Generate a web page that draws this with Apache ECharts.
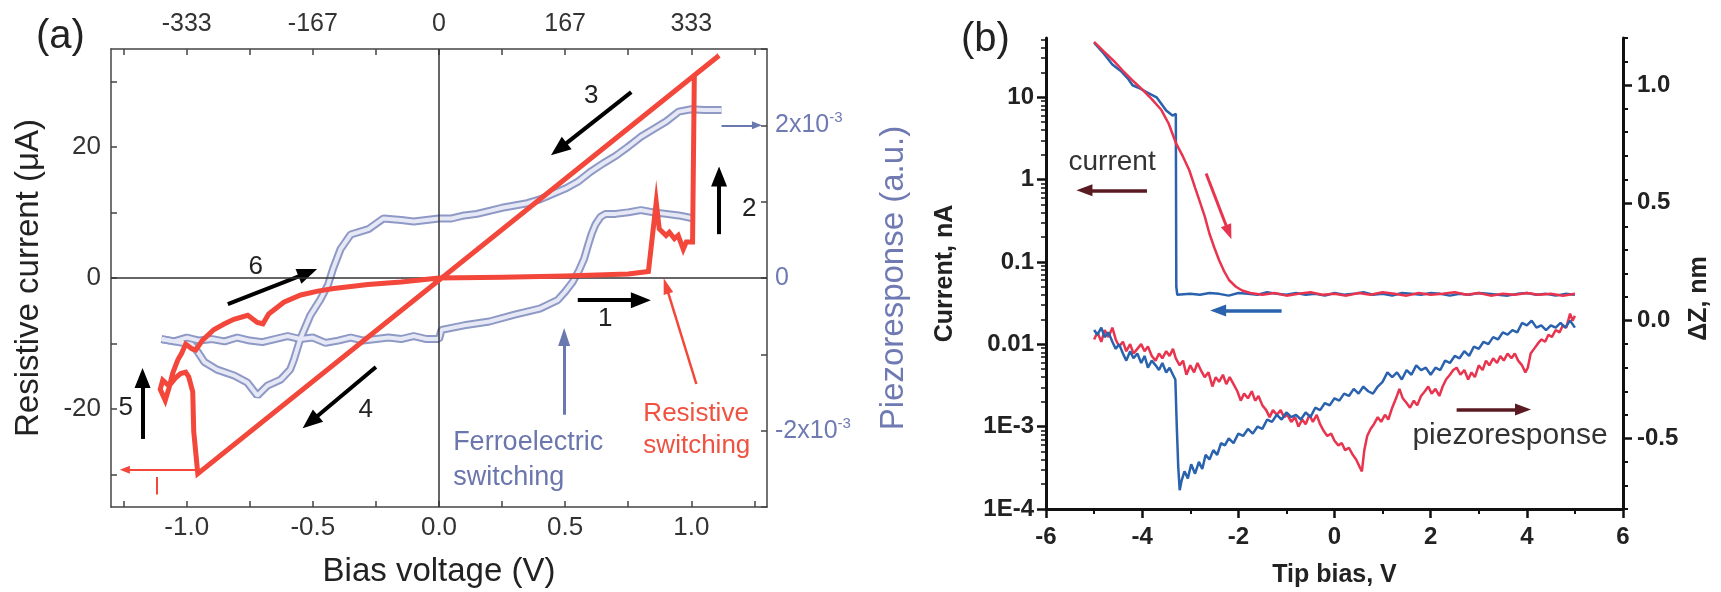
<!DOCTYPE html>
<html>
<head>
<meta charset="utf-8">
<title>Resistive and ferroelectric switching</title>
<script src="https://cdn.jsdelivr.net/npm/echarts@6/dist/echarts.min.js"></script>
<style>
  html, body { margin: 0; padding: 0; background: #fff; }
  #chart { width: 1721px; height: 592px; }
</style>
</head>
<body>
<div id="chart"></div>
<script>
// ---------- panel (a): bias voltage (V) ----------
// resistive current loop (uA), in sweep order
const resV = [0, 0.25, 0.5, 0.75, 0.83, 0.861, 0.873, 0.9, 0.913, 0.933, 0.948, 0.968, 0.98, 1.005, 1.012, 1.11,
  -0.956, -0.972, -0.976, -0.992, -1.004, -1.024, -1.045, -1.07, -1.095, -1.105, -1.085, -1.07, -1.055, -1.035,
  -1.02, -1.004, -0.98, -0.964, -0.937, -0.893, -0.85, -0.813, -0.758, -0.72, -0.698, -0.675, -0.615, -0.548,
  -0.48, -0.417, -0.282, -0.15, 0]
const resI = [0, 0.1, 0.3, 0.6, 1.0, 11.6, 7.5, 6.5, 7.0, 6.0, 6.5, 4.4, 5.5, 5.5, 31, 34,
  -29.9, -23.5, -17.4, -15.1, -14.4, -14.6, -15.3, -16.5, -15.6, -17.0, -18.7, -16.8, -14.5, -12.5,
  -11.5, -10.1, -10.8, -11.0, -9.5, -7.9, -7.0, -6.3, -5.7, -6.8, -7.0, -5.5, -3.7, -2.6,
  -2.0, -1.6, -1.0, -0.6, 0]

// piezoresponse (x1e-3 a.u.), forward sweep (lower branch)
const piezoFwdV = [-1.1, -1.05, -1.0, -0.95, -0.9, -0.85, -0.8, -0.75, -0.7, -0.65, -0.6, -0.55, -0.5, -0.45,
  -0.4, -0.35, -0.3, -0.25, -0.2, -0.15, -0.1, -0.05, 0.0, 0.01, 0.1, 0.2, 0.3, 0.4, 0.47, 0.5, 0.53, 0.555,
  0.575, 0.59, 0.605, 0.62, 0.64, 0.66, 0.7, 0.75, 0.8, 0.85, 0.9, 0.95, 1.01]
const piezoFwdP = [-0.80, -0.83, -0.78, -0.82, -0.80, -0.83, -0.78, -0.82, -0.84, -0.80, -0.76, -0.80, -0.78, -0.85,
  -0.82, -0.78, -0.82, -0.80, -0.78, -0.80, -0.76, -0.80, -0.80, -0.68, -0.62, -0.57, -0.48, -0.40, -0.29, -0.18, -0.05, 0.1,
  0.25, 0.42, 0.58, 0.70, 0.80, 0.84, 0.84, 0.86, 0.89, 0.86, 0.84, 0.82, 0.78]
// reverse sweep (upper branch)
const piezoRevV = [1.12, 1.05, 1.0, 0.95, 0.9, 0.85, 0.8, 0.75, 0.7, 0.65, 0.6, 0.55, 0.5, 0.45, 0.4, 0.35, 0.3,
  0.25, 0.2, 0.15, 0.1, 0.05, 0.0, -0.05, -0.1, -0.15, -0.22, -0.28, -0.35, -0.39, -0.42, -0.44, -0.47, -0.51,
  -0.55, -0.575, -0.59, -0.627, -0.68, -0.72, -0.76, -0.81, -0.88, -0.93, -0.956, -0.98, -1.05, -1.1]
const piezoRevP = [2.2, 2.2, 2.21, 2.18, 2.05, 1.95, 1.85, 1.72, 1.6, 1.5, 1.39, 1.26, 1.17, 1.1, 1.03, 0.98, 0.95,
  0.92, 0.88, 0.84, 0.82, 0.78, 0.78, 0.76, 0.74, 0.76, 0.78, 0.64, 0.57, 0.38, 0.12, -0.09, -0.28, -0.49,
  -0.80, -1.07, -1.2, -1.33, -1.41, -1.54, -1.37, -1.28, -1.2, -1.1, -0.97, -0.87, -0.83, -0.80]

const biasLabelValues = [-1, -0.5, 0, 0.5, 1]
const biasTickValues = [-1.25, -1, -0.75, -0.5, -0.25, 0, 0.25, 0.5, 0.75, 1, 1.25]
const topTickLabels = ['-333', '-167', '0', '167', '333']
const currentLabelValues = [-20, 0, 20]
const currentTickValues = [-30, -20, -10, 0, 10, 20, 30]
const piezoLabelValues = [-2, 0, 2]
const piezoTickLabels = ['-2x10^-3', '0', '2x10^-3']
const piezoTickValues = [-3, -2, -1, 0, 1, 2, 3]

// ---------- panel (b): tip bias (V) ----------
// current (nA), blue sweep
const curBlueV = [-5.0, -4.8, -4.62, -4.45, -4.3, -4.2, -4.05, -3.9, -3.7, -3.5, -3.37, -3.3, -3.29, -3.27,
  -3.0, -2.8, -2.6, -2.4, -2.2, -2.0, -1.8, -1.6, -1.4, -1.2, -1.0, -0.8, -0.6, -0.4, -0.2, 0, 0.2, 0.4,
  0.6, 0.8, 1.0, 1.2, 1.4, 1.6, 1.8, 2.0, 2.2, 2.4, 2.6, 2.8, 3.0, 3.2, 3.4, 3.6, 3.8, 4.0, 4.2, 4.4,
  4.6, 4.8, 5.0]
const curBlueI = [46, 34, 25, 21, 17, 14, 12.8, 11.5, 10, 6.9, 6.0, 6.3, 0.05, 0.040,
  0.041, 0.040, 0.042, 0.041, 0.039, 0.042, 0.041, 0.040, 0.043, 0.041, 0.040, 0.042, 0.040, 0.041, 0.039, 0.042, 0.040, 0.041,
  0.043, 0.040, 0.041, 0.039, 0.042, 0.041, 0.040, 0.042, 0.041, 0.039, 0.041, 0.040, 0.042, 0.041, 0.040, 0.039, 0.041, 0.042, 0.040, 0.041,
  0.039, 0.041, 0.040]
// current (nA), red sweep
const curRedV = [-5.0, -4.8, -4.6, -4.4, -4.2, -4.0, -3.8, -3.6, -3.45, -3.3, -3.15, -3.02, -2.9, -2.81, -2.7,
  -2.6, -2.5, -2.4, -2.3, -2.19, -2.05, -1.92, -1.75, -1.5, -1.25, -1.0, -0.75, -0.5, -0.25, 0, 0.25, 0.5,
  0.75, 1.0, 1.25, 1.5, 1.75, 2.0, 2.25, 2.5, 2.75, 3.0, 3.25, 3.5, 3.75, 4.0, 4.25, 4.5, 4.75, 5.0]
const curRedI = [47, 36, 28, 21, 16, 12.5, 9.5, 7, 4.8, 2.8, 1.9, 1.3, 0.8, 0.56, 0.36,
  0.22, 0.15, 0.105, 0.078, 0.06, 0.05, 0.045, 0.042, 0.040, 0.042, 0.039, 0.041, 0.043, 0.040, 0.041, 0.039, 0.042,
  0.040, 0.043, 0.041, 0.039, 0.042, 0.040, 0.041, 0.043, 0.040, 0.042, 0.039, 0.041, 0.040, 0.042, 0.040, 0.041, 0.039, 0.041]

// piezoresponse dZ (nm), blue sweep
const dzBlueV = [-5.0, -4.93, -4.85, -4.78, -4.7, -4.62, -4.55, -4.48, -4.4, -4.33, -4.25, -4.18, -4.1, -4.02,
  -3.95, -3.88, -3.8, -3.72, -3.65, -3.58, -3.5, -3.43, -3.36, -3.31, -3.28, -3.25, -3.22, -3.18, -3.12, -3.05,
  -2.98, -2.9, -2.82, -2.75, -2.68, -2.6, -2.52, -2.44, -2.36, -2.28, -2.2, -2.1, -2.0, -1.9, -1.8, -1.7, -1.6,
  -1.5, -1.4, -1.3, -1.2, -1.1, -1.0, -0.9, -0.8, -0.7, -0.6, -0.5, -0.4, -0.3, -0.2, -0.1, 0, 0.1, 0.2, 0.3,
  0.4, 0.5, 0.6, 0.7, 0.8, 0.9, 1.0, 1.1, 1.2, 1.3, 1.4, 1.5, 1.6, 1.7, 1.8, 1.9, 2.0, 2.1, 2.2, 2.3, 2.4, 2.5,
  2.6, 2.7, 2.8, 2.9, 3.0, 3.1, 3.2, 3.3, 3.4, 3.5, 3.6, 3.7, 3.8, 3.9, 4.0, 4.1, 4.2, 4.3, 4.4, 4.5, 4.6, 4.7,
  4.8, 4.9, 5.0]
const dzBlue = [-0.04, -0.06, -0.03, -0.07, -0.05, -0.09, -0.12, -0.10, -0.14, -0.17, -0.13, -0.16, -0.14, -0.18,
  -0.15, -0.20, -0.17, -0.19, -0.21, -0.18, -0.22, -0.20, -0.23, -0.25, -0.45, -0.62, -0.72, -0.68, -0.64, -0.67,
  -0.61, -0.65, -0.60, -0.63, -0.57, -0.59, -0.55, -0.57, -0.52, -0.53, -0.50, -0.52, -0.48, -0.49, -0.46, -0.48, -0.45,
  -0.46, -0.42, -0.43, -0.40, -0.42, -0.39, -0.41, -0.40, -0.42, -0.39, -0.41, -0.37, -0.38, -0.35, -0.36, -0.33, -0.34, -0.31, -0.32,
  -0.29, -0.31, -0.28, -0.30, -0.31, -0.28, -0.26, -0.22, -0.24, -0.22, -0.25, -0.21, -0.23, -0.19, -0.21, -0.20, -0.23, -0.20, -0.21, -0.17, -0.18, -0.15,
  -0.16, -0.13, -0.15, -0.11, -0.12, -0.09, -0.10, -0.07, -0.08, -0.05, -0.06, -0.04, -0.05, -0.01, -0.02, 0.0, -0.03, -0.02, -0.04, -0.02, -0.03, -0.01,
  -0.03, 0.0, -0.03]
// piezoresponse dZ (nm), red sweep
const dzRedV = [-5.0, -4.93, -4.85, -4.78, -4.7, -4.62, -4.55, -4.48, -4.4, -4.33, -4.25, -4.18, -4.1, -4.02,
  -3.95, -3.88, -3.8, -3.72, -3.65, -3.58, -3.5, -3.43, -3.36, -3.3, -3.22, -3.15, -3.08, -3.0, -2.92, -2.85,
  -2.78, -2.7, -2.62, -2.54, -2.47, -2.4, -2.32, -2.25, -2.18, -2.1, -2.02, -1.95, -1.88, -1.8, -1.72, -1.65,
  -1.58, -1.5, -1.42, -1.35, -1.28, -1.2, -1.12, -1.05, -0.98, -0.9, -0.82, -0.75, -0.67, -0.6, -0.52, -0.45,
  -0.37, -0.3, -0.22, -0.15, -0.07, 0.0, 0.08, 0.15, 0.22, 0.3, 0.38, 0.45, 0.52, 0.57, 0.62, 0.68, 0.75, 0.82,
  0.9, 0.97, 1.05, 1.12, 1.2, 1.28, 1.35, 1.42, 1.5, 1.57, 1.65, 1.72, 1.8, 1.88, 1.95, 2.02, 2.1, 2.18, 2.25,
  2.32, 2.4, 2.47, 2.54, 2.62, 2.7, 2.78, 2.85, 2.92, 3.0, 3.08, 3.15, 3.22, 3.3, 3.38, 3.45, 3.52, 3.6, 3.68,
  3.75, 3.82, 3.9, 3.97, 4.02, 4.08, 4.15, 4.22, 4.3, 4.38, 4.45, 4.52, 4.6, 4.68, 4.75, 4.82, 4.9, 4.95, 5.0]
const dzRed = [-0.08, -0.05, -0.09, -0.04, -0.07, -0.03, -0.08, -0.11, -0.09, -0.13, -0.10, -0.14, -0.12, -0.10,
  -0.13, -0.11, -0.15, -0.17, -0.14, -0.16, -0.13, -0.15, -0.12, -0.16, -0.19, -0.17, -0.23, -0.19, -0.22, -0.18,
  -0.21, -0.24, -0.22, -0.28, -0.24, -0.26, -0.23, -0.27, -0.24, -0.27, -0.30, -0.34, -0.31, -0.33, -0.30, -0.34,
  -0.32, -0.36, -0.38, -0.41, -0.38, -0.40, -0.38, -0.41, -0.40, -0.43, -0.41, -0.45, -0.42, -0.44, -0.40, -0.43,
  -0.40, -0.44, -0.47, -0.49, -0.48, -0.51, -0.53, -0.52, -0.55, -0.54, -0.57, -0.59, -0.62, -0.64, -0.55, -0.49, -0.46, -0.44,
  -0.41, -0.43, -0.40, -0.42, -0.37, -0.33, -0.29, -0.33, -0.35, -0.37, -0.34, -0.36, -0.32, -0.30, -0.28, -0.31, -0.29, -0.32, -0.28,
  -0.25, -0.23, -0.21, -0.20, -0.23, -0.21, -0.25, -0.22, -0.24, -0.19, -0.21, -0.17, -0.19, -0.16, -0.18, -0.15, -0.17, -0.14, -0.16,
  -0.14, -0.17, -0.19, -0.22, -0.20, -0.14, -0.12, -0.10, -0.08, -0.09, -0.06, -0.07, -0.04, -0.05, -0.02, -0.03, 0.03, 0.0, 0.02]

const currentDecades = [-4, -3, -2, -1, 0, 1]
const currentTickLabels = ['1E-4', '1E-3', '0.01', '0.1', '1', '10']
const dzLabelValues = [-0.5, 0, 0.5, 1.0]
const dzMinorValues = [-0.8, -0.7, -0.6, -0.4, -0.3, -0.2, -0.1, 0.1, 0.2, 0.3, 0.4, 0.6, 0.7, 0.8, 0.9, 1.1, 1.2]

// ---------- helpers ----------
const FONT = '"Liberation Sans", Arial, Helvetica, sans-serif'
const RED_A = '#f2473a'
const BLUE_A = '#8e99c6'
const BLUE_A_IN = '#e6e9f5'
const BLUE_TXT = '#6f7ab2'
const BLUE_B = '#2a62ad'
const RED_B = '#e8344f'
const MAROON = '#5a1a22'

const pairs = (xs, ys) => xs.map((x, i) => [x, ys[i]])
const logPairs = (xs, ys) => xs.map((x, i) => [x, Math.log10(ys[i])])
const lg = Math.log10

// minor ticks of the log current axis: 2..9 x each decade
const logMinorValues = []
currentDecades.forEach(d => {
  for (let k = 2; k <= 9; k++) {
    const v = d + lg(k)
    if (v <= 1.72) logMinorValues.push(v)
  }
})

// arrow between two data points
const arrow = (p0, p1, color, width, size) => [
  { coord: p0, symbol: 'none', lineStyle: { color: color, width: width, type: 'solid' } },
  { coord: p1, symbol: 'triangle', symbolSize: size }
]
const plainLine = (p0, p1, color, width) => [
  { coord: p0, symbol: 'none', lineStyle: { color: color, width: width, type: 'solid' } },
  { coord: p1, symbol: 'none' }
]
// text placed at a data point
const note = (text, x, y, style) => ({
  coord: [x, y], symbol: 'circle', symbolSize: 0,
  label: Object.assign({ show: true, position: 'inside', formatter: text, fontFamily: FONT, color: '#222', fontSize: 26 }, style)
})

const piezoRich = idx => {
  const t = piezoTickLabels[idx]
  if (t.indexOf('^') < 0) return '{n|' + t + '}'
  const parts = t.split('^')
  return '{n|' + parts[0] + '}{e|' + parts[1] + '}'
}

const chart = echarts.init(document.getElementById('chart'))

const axisA = { color: '#444', width: 1.5 }
const axisB = { color: '#111', width: 3 }
const zeroLine = { color: '#333', width: 1.5, type: 'solid' }

const option = {
  animation: false,
  backgroundColor: '#fff',
  title: [
    { text: '(a)', left: 36, top: 17, padding: 0, textStyle: { fontFamily: FONT, fontSize: 40, fontWeight: 'normal', color: '#222' } },
    { text: '(b)', left: 961, top: 20, padding: 0, textStyle: { fontFamily: FONT, fontSize: 40, fontWeight: 'normal', color: '#222' } }
  ],
  grid: [
    { left: 111, top: 49, width: 656, height: 458, outerBoundsMode: 'none', containLabel: false },
    { left: 1046, top: 38, width: 577, height: 471, outerBoundsMode: 'none', containLabel: false }
  ],
  xAxis: [
    {
      gridIndex: 0, type: 'value', position: 'bottom', min: -1.3, max: 1.3,
      axisLine: { onZero: false, lineStyle: axisA },
      axisTick: { inside: true, length: 6, customValues: biasTickValues, lineStyle: axisA },
      axisLabel: { customValues: biasLabelValues, formatter: v => v.toFixed(1), margin: 8, fontFamily: FONT, fontSize: 26, color: '#333' },
      splitLine: { show: false },
      name: 'Bias voltage (V)', nameLocation: 'middle', nameGap: 48,
      nameTextStyle: { fontFamily: FONT, fontSize: 33, color: '#222' }
    },
    {
      gridIndex: 0, type: 'value', position: 'top', min: -1.3, max: 1.3,
      axisLine: { onZero: false, lineStyle: axisA },
      axisTick: { inside: true, length: 6, customValues: biasTickValues, lineStyle: axisA },
      axisLabel: {
        customValues: biasLabelValues,
        formatter: v => topTickLabels[biasLabelValues.indexOf(v)],
        margin: 12, fontFamily: FONT, fontSize: 25, color: '#333'
      },
      splitLine: { show: false }
    },
    {
      gridIndex: 1, type: 'value', position: 'bottom', min: -6, max: 6, interval: 2,
      axisLine: { onZero: false, lineStyle: axisB },
      axisTick: { inside: false, length: 9, lineStyle: { color: '#111', width: 2.5 } },
      minorTick: { show: true, splitNumber: 2, length: 5, lineStyle: { color: '#111', width: 2 } },
      axisLabel: { margin: 16, fontFamily: FONT, fontSize: 24, fontWeight: 'bold', color: '#222' },
      splitLine: { show: false },
      name: 'Tip bias, V', nameLocation: 'middle', nameGap: 54,
      nameTextStyle: { fontFamily: FONT, fontSize: 25, fontWeight: 'bold', color: '#222' }
    }
  ],
  yAxis: [
    {
      gridIndex: 0, type: 'value', position: 'left', min: -35, max: 35,
      axisLine: { onZero: false, lineStyle: axisA },
      axisTick: { inside: true, length: 6, customValues: currentTickValues, lineStyle: axisA },
      axisLabel: { customValues: currentLabelValues, margin: 10, fontFamily: FONT, fontSize: 26, color: '#333' },
      splitLine: { show: false },
      name: 'Resistive current (μA)', nameLocation: 'middle', nameGap: 66, nameRotate: 90,
      nameTextStyle: { fontFamily: FONT, fontSize: 33, color: '#222' }
    },
    {
      gridIndex: 0, type: 'value', position: 'right', min: -3, max: 3,
      axisLine: { onZero: false, lineStyle: axisA },
      axisTick: { inside: true, length: 6, customValues: piezoTickValues, lineStyle: axisA },
      axisLabel: {
        customValues: piezoLabelValues,
        formatter: v => piezoRich(piezoLabelValues.indexOf(v)),
        margin: 8,
        rich: {
          n: { fontFamily: FONT, fontSize: 25, color: BLUE_TXT },
          e: { fontFamily: FONT, fontSize: 15, color: BLUE_TXT, padding: [0, 0, 14, 0] }
        }
      },
      splitLine: { show: false },
      name: 'Piezoresponse (a.u.)', nameLocation: 'middle', nameGap: 110, nameRotate: 90,
      nameTextStyle: { fontFamily: FONT, fontSize: 33, color: BLUE_TXT }
    },
    {
      gridIndex: 1, type: 'value', position: 'left', min: -4, max: 1.72,
      axisLine: { onZero: false, lineStyle: axisB },
      axisTick: { inside: false, length: 9, customValues: currentDecades, lineStyle: { color: '#111', width: 2.5 } },
      axisLabel: {
        customValues: currentDecades,
        formatter: v => currentTickLabels[currentDecades.indexOf(v)],
        margin: 12, fontFamily: FONT, fontSize: 24, fontWeight: 'bold', color: '#222'
      },
      splitLine: { show: false },
      name: 'Current, nA', nameLocation: 'middle', nameGap: 88, nameRotate: 90,
      nameTextStyle: { fontFamily: FONT, fontSize: 25, fontWeight: 'bold', color: '#222' }
    },
    {
      gridIndex: 1, type: 'value', position: 'left', min: -4, max: 1.72,
      axisLine: { show: false, onZero: false },
      axisTick: { inside: false, length: 5, customValues: logMinorValues, lineStyle: { color: '#111', width: 1.5 } },
      axisLabel: { show: false },
      splitLine: { show: false }
    },
    {
      gridIndex: 1, type: 'value', position: 'right', min: -0.8, max: 1.2,
      axisLine: { onZero: false, lineStyle: axisB },
      axisTick: { inside: false, length: 9, customValues: dzLabelValues, lineStyle: { color: '#111', width: 2.5 } },
      axisLabel: {
        customValues: dzLabelValues, formatter: v => v.toFixed(1),
        margin: 14, fontFamily: FONT, fontSize: 24, fontWeight: 'bold', color: '#222'
      },
      splitLine: { show: false },
      name: 'ΔZ, nm', nameLocation: 'middle', nameGap: 64, nameRotate: 90,
      nameTextStyle: { fontFamily: FONT, fontSize: 25, fontWeight: 'bold', color: '#222', padding: [0, 50, 0, 0] }
    },
    {
      gridIndex: 1, type: 'value', position: 'right', min: -0.8, max: 1.2,
      axisLine: { show: false, onZero: false },
      axisTick: { inside: false, length: 5, customValues: dzMinorValues, lineStyle: { color: '#111', width: 2 } },
      axisLabel: { show: false },
      splitLine: { show: false }
    }
  ],
  series: [
    // --- panel (a) piezoresponse, drawn as an outlined tube ---
    {
      type: 'line', xAxisIndex: 0, yAxisIndex: 1, data: pairs(piezoFwdV, piezoFwdP),
      showSymbol: false, symbol: 'none', z: 2, silent: true,
      lineStyle: { color: BLUE_A, width: 8 }
    },
    {
      type: 'line', xAxisIndex: 0, yAxisIndex: 1, data: pairs(piezoRevV, piezoRevP),
      showSymbol: false, symbol: 'none', z: 2, silent: true,
      lineStyle: { color: BLUE_A, width: 8 },
      markLine: {
        silent: true, label: { show: false }, symbol: ['none', 'triangle'],
        data: [arrow([1.12, 2.0], [1.26, 2.0], '#6a78b0', 2, [8, 10])]
      }
    },
    {
      type: 'line', xAxisIndex: 0, yAxisIndex: 1, data: pairs(piezoFwdV, piezoFwdP),
      showSymbol: false, symbol: 'none', z: 3, silent: true,
      lineStyle: { color: BLUE_A_IN, width: 4 }
    },
    {
      type: 'line', xAxisIndex: 0, yAxisIndex: 1, data: pairs(piezoRevV, piezoRevP),
      showSymbol: false, symbol: 'none', z: 3, silent: true,
      lineStyle: { color: BLUE_A_IN, width: 4 }
    },
    // zero lines of panel (a)
    {
      type: 'line', xAxisIndex: 0, yAxisIndex: 0, data: [], z: 1, silent: true,
      markLine: {
        silent: true, label: { show: false }, symbol: ['none', 'none'],
        lineStyle: zeroLine,
        data: [{ xAxis: 0 }, { yAxis: 0 }]
      }
    },
    // --- panel (a) resistive current ---
    {
      type: 'line', xAxisIndex: 0, yAxisIndex: 0, data: pairs(resV, resI),
      showSymbol: false, symbol: 'none', z: 5, silent: true,
      lineStyle: { color: RED_A, width: 5, join: 'miter' },
      markLine: {
        silent: true, label: { show: false }, symbol: ['none', 'triangle'], z: 4,
        data: [
          arrow([0.55, -3.4], [0.80, -3.4], '#000', 4, [16, 20]),
          arrow([1.11, 6.7], [1.11, 15.5], '#000', 4, [16, 20]),
          arrow([0.762, 28.4], [0.475, 19.7], '#000', 4, [16, 20]),
          arrow([-0.25, -13.6], [-0.51, -22.0], '#000', 4, [16, 20]),
          arrow([-1.175, -24.6], [-1.175, -15.3], '#000', 4, [16, 20]),
          arrow([-0.837, -4.0], [-0.52, 0.8], '#000', 4, [16, 20]),
          arrow([0.496, -20.9], [0.496, -9.0], '#6a78b0', 3, [12, 18]),
          arrow([1.02, -16.2], [0.90, -1.2], RED_A, 2.5, [10, 16]),
          arrow([-0.964, -29.3], [-1.245, -29.3], RED_A, 2, [8, 10]),
          plainLine([-1.119, -30.4], [-1.119, -33.1], RED_A, 2)
        ]
      },
      markPoint: {
        silent: true,
        data: [
          note('1', 0.659, -6.3),
          note('2', 1.23, 10.5),
          note('3', 0.603, 27.9),
          note('4', -0.29, -20.2),
          note('5', -1.242, -19.8),
          note('6', -0.726, 1.7),
          note('Ferroelectric\nswitching', 0.056, -27.9, { align: 'left', color: '#6b76ad', fontSize: 27, lineHeight: 35 }),
          note('Resistive\nswitching', 0.81, -23.2, { align: 'left', color: '#ef5240', fontSize: 26, lineHeight: 32 })
        ]
      }
    },
    // --- panel (b) current (log10 of nA) ---
    {
      type: 'line', xAxisIndex: 2, yAxisIndex: 2, data: logPairs(curBlueV, curBlueI),
      showSymbol: false, symbol: 'none', z: 4, silent: true,
      lineStyle: { color: BLUE_B, width: 2.5 },
      markLine: {
        silent: true, label: { show: false }, symbol: ['none', 'triangle'],
        data: [
          arrow([-3.9, -0.13], [-5.2, -0.13], MAROON, 3.5, [12, 16]),
          arrow([-1.1, -1.59], [-2.42, -1.59], BLUE_B, 3.5, [12, 16])
        ]
      },
      markPoint: {
        silent: true,
        data: [note('current', -4.625, 0.21, { color: '#333', fontSize: 28 })]
      }
    },
    {
      type: 'line', xAxisIndex: 2, yAxisIndex: 2, data: logPairs(curRedV, curRedI),
      showSymbol: false, symbol: 'none', z: 5, silent: true,
      lineStyle: { color: RED_B, width: 2.5 },
      markLine: {
        silent: true, label: { show: false }, symbol: ['none', 'triangle'],
        data: [arrow([-2.67, 0.075], [-2.2, -0.64], RED_B, 3, [11, 15])]
      }
    },
    // --- panel (b) piezoresponse dZ (nm) ---
    {
      type: 'line', xAxisIndex: 2, yAxisIndex: 4, data: pairs(dzRedV, dzRed),
      showSymbol: false, symbol: 'none', z: 4, silent: true,
      lineStyle: { color: RED_B, width: 2.5 }
    },
    {
      type: 'line', xAxisIndex: 2, yAxisIndex: 4, data: pairs(dzBlueV, dzBlue),
      showSymbol: false, symbol: 'none', z: 5, silent: true,
      lineStyle: { color: BLUE_B, width: 2.5 },
      markLine: {
        silent: true, label: { show: false }, symbol: ['none', 'triangle'],
        data: [arrow([2.54, -0.377], [3.92, -0.377], MAROON, 3.5, [12, 16])]
      },
      markPoint: {
        silent: true,
        data: [note('piezoresponse', 3.65, -0.49, { color: '#333', fontSize: 30 })]
      }
    }
  ]
}

chart.setOption(option)
</script>
</body>
</html>
